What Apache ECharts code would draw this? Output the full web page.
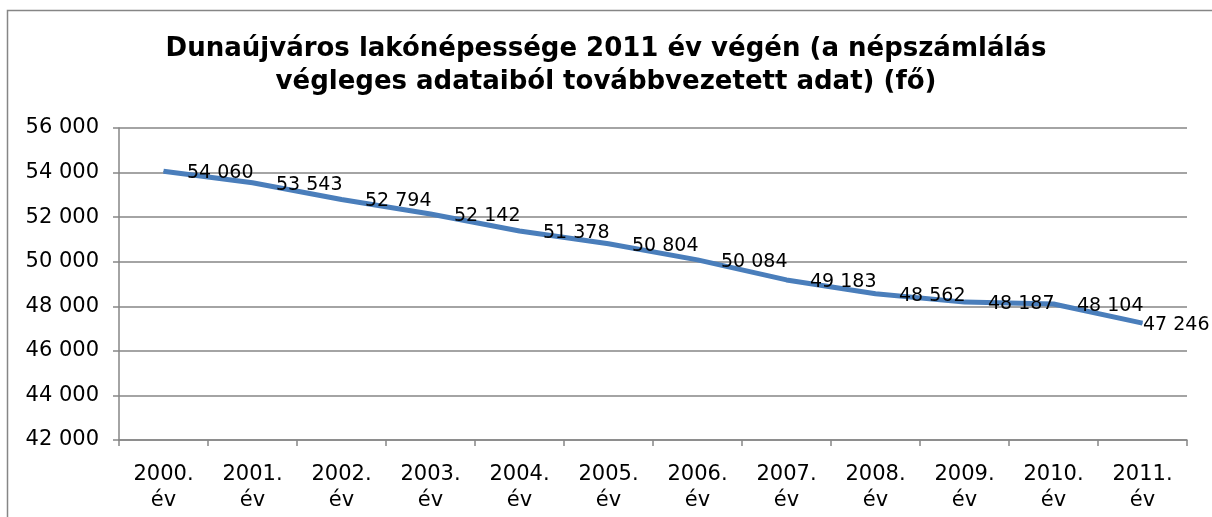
<!DOCTYPE html>
<html>
<head>
<meta charset="utf-8">
<script src="https://cdn.jsdelivr.net/npm/echarts@6/dist/echarts.min.js"></script>
<style>
  html, body { margin: 0; padding: 0; background: #fff; }
  #chart { width: 1212px; height: 517px; }
</style>
</head>
<body>
<div id="chart"></div>
<script>
var years = ['2000.\név', '2001.\név', '2002.\név', '2003.\név', '2004.\név', '2005.\név',
             '2006.\név', '2007.\név', '2008.\név', '2009.\név', '2010.\név', '2011.\név'];
var population = [54060, 53543, 52794, 52142, 51378, 50804, 50084, 49183, 48562, 48187, 48104, 47246];

function fmt(v) {
    return String(v).replace(/\B(?=(\d{3})+(?!\d))/g, ' ');
}

var gray = '#868686';
var font = '"DejaVu Sans", Verdana, sans-serif';

var chart = echarts.init(document.getElementById('chart'));
var option = {
    animation: false,
    title: {
        text: 'Dunaújváros lakónépessége 2011 év végén (a népszámlálás\nvégleges adataiból továbbvezetett adat) (fő)',
        left: 'center',
        top: 28,
        textStyle: { fontFamily: font, fontSize: 26, fontWeight: 'bold', color: '#000', lineHeight: 33 }
    },
    graphic: [{
        type: 'rect',
        shape: { x: 7.5, y: 10.5, width: 1300, height: 600 },
        style: { fill: null, stroke: gray, lineWidth: 1.5 },
        silent: true
    }],
    grid: { left: 119, right: 25, top: 128, bottom: 77 },
    xAxis: {
        type: 'category',
        data: years,
        boundaryGap: true,
        axisLine: { lineStyle: { color: gray, width: 1.5 } },
        axisTick: { show: true, length: 6, lineStyle: { color: gray, width: 1.5 } },
        axisLabel: { fontFamily: font, fontSize: 21, color: '#000', lineHeight: 26, margin: 22, interval: 0 }
    },
    yAxis: {
        type: 'value',
        min: 42000,
        max: 56000,
        interval: 2000,
        axisLine: { show: true, lineStyle: { color: gray, width: 1.5 } },
        axisTick: { show: true, length: 6, lineStyle: { color: gray, width: 1.5 } },
        splitLine: { lineStyle: { color: gray, width: 1.5 } },
        axisLabel: {
            fontFamily: font, fontSize: 21, color: '#000', margin: 20,
            formatter: function (v) { return fmt(v); }
        }
    },
    series: [{
        type: 'line',
        data: population.map(function (v, i) {
            var d = { value: v };
            if (i === population.length - 1) d.label = { distance: 0 };
            return d;
        }),
        symbol: 'circle',
        symbolSize: 1,
        showSymbol: true,
        itemStyle: { color: '#4a7ebb' },
        lineStyle: { color: '#4a7ebb', width: 5 },
        label: {
            show: true,
            position: 'right',
            distance: 23,
            offset: [0, 2],
            fontFamily: font,
            fontSize: 19,
            color: '#000',
            formatter: function (p) { return fmt(p.value); }
        }
    }]
};
chart.setOption(option);
</script>
</body>
</html>
